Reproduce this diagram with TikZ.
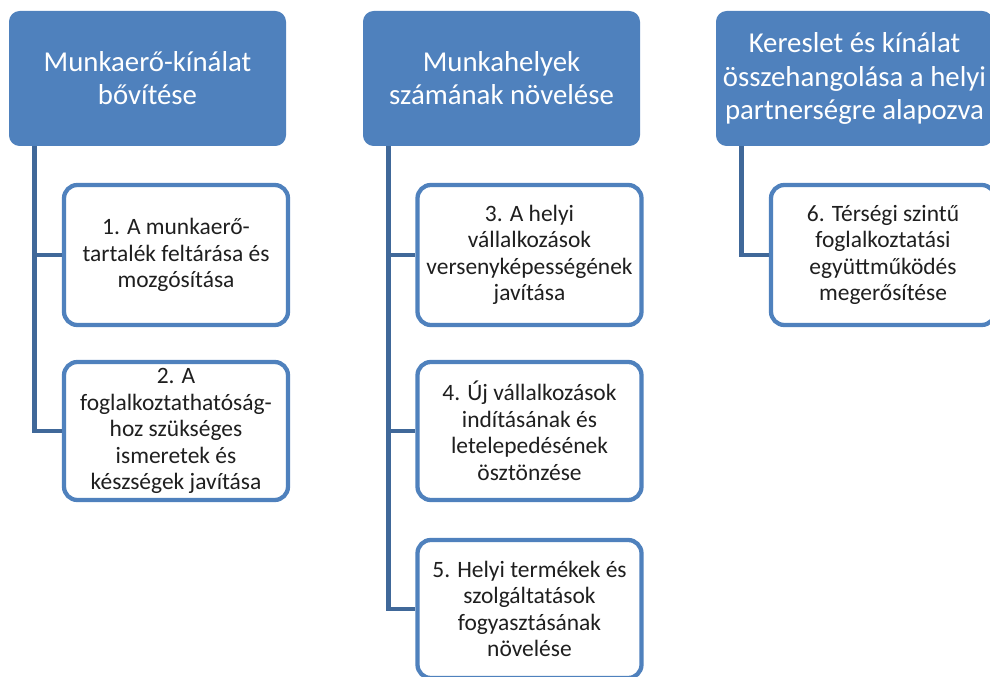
\documentclass[tikz,border=0pt]{standalone}
\usepackage{fontspec}
\setmainfont{Carlito}
\definecolor{accent}{HTML}{4F81BD}
\definecolor{linkc}{HTML}{406899}
\definecolor{txt}{HTML}{1F1F1F}
\tikzset{
  head/.style={draw=none, fill=accent, rounded corners=8pt, minimum width=207.75pt, minimum height=101.25pt,
    text=white, align=center, font=\fontsize{21.6}{24.9}\selectfont, inner sep=0pt},
  child/.style={draw=accent, line width=3.2pt, fill=white, rounded corners=10pt, minimum width=168pt,
    minimum height=105pt, text=txt, align=center, font=\fontsize{17.6}{19.9}\selectfont, inner sep=0pt},
  conn/.style={draw=linkc, line width=3.5pt}
}
\begin{document}
\begin{tikzpicture}[x=0.75pt,y=-0.75pt]
\useasboundingbox (0,0) rectangle (990,677);
% headers
\node[head] (h1) at (147.5,78.5) {Munkaerő-kínálat\\bővítése};
\node[head] (h2) at (501.5,78.5) {Munkahelyek\\számának növelése};
\node[head] (h3) at (854.5,78.5) {Kereslet és kínálat\\összehangolása a helyi\\partnerségre alapozva};
% connector start points
\coordinate (t1) at ([xshift=19.5pt]h1.south west);
\coordinate (t2) at ([xshift=19.5pt]h2.south west);
\coordinate (t3) at ([xshift=19.5pt]h3.south west);
% children
\node[child] (c1) at (176,255) {1. A munkaerő-\\tartalék feltárása és\\mozgósítása};
\node[child, minimum height=103.5pt] (c2) at (176,431) {2. A\\foglalkoztathatóság-\\hoz szükséges\\ismeretek és\\készségek javítása};
\node[child] (c3) at (529.5,255) {3. A helyi\\vállalkozások\\versenyképességének\\javítása};
\node[child, minimum height=103.5pt] (c4) at (529.5,431) {4. Új vállalkozások\\indításának és\\letelepedésének\\ösztönzése};
\node[child, minimum height=103.5pt] (c5) at (529.5,609) {5. Helyi termékek és\\szolgáltatások\\fogyasztásának\\növelése};
\node[child] (c6) at (883,255) {6. Térségi szintű\\foglalkoztatási\\együttműködés\\megerősítése};
\draw[conn] (t1) |- (c2.west);
\draw[conn] (t1 |- c1.west) -- (c1.west);
\draw[conn] (t2) |- (c5.west);
\draw[conn] (t2 |- c3.west) -- (c3.west);
\draw[conn] (t2 |- c4.west) -- (c4.west);
\draw[conn] (t3) |- (c6.west);
\end{tikzpicture}
\end{document}
